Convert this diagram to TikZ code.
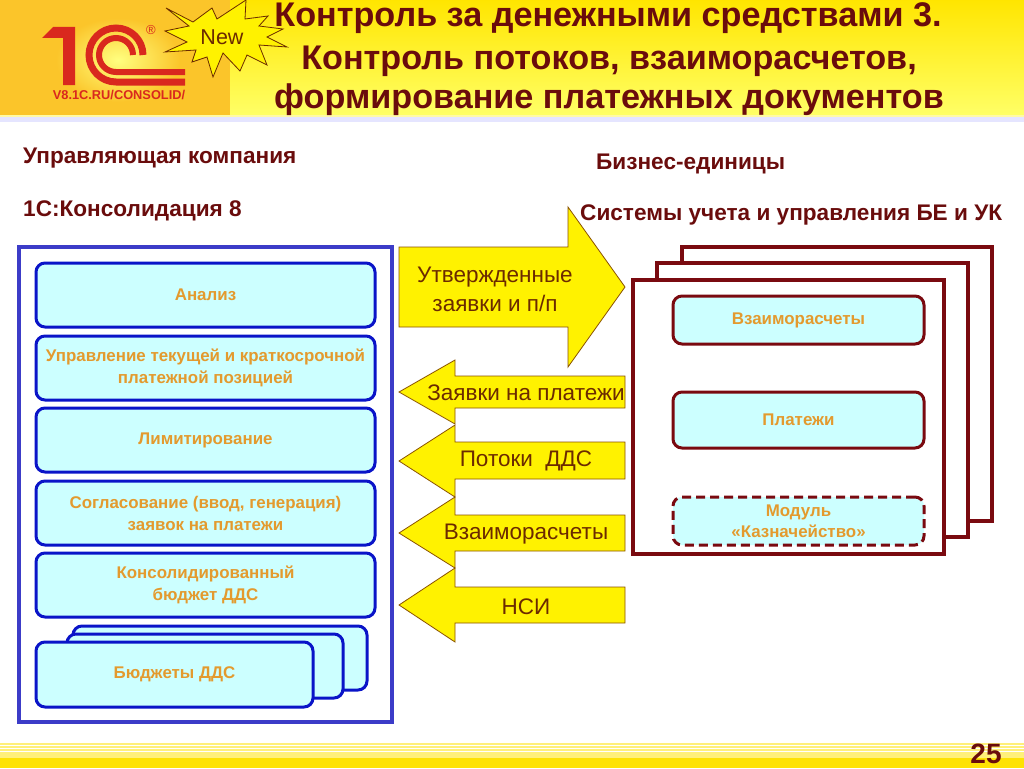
\documentclass[tikz,border=0pt]{standalone}
\usepackage{fontspec}
\setmainfont{Liberation Sans}
\usetikzlibrary{positioning}

\definecolor{maroon}{HTML}{7A0A10}
\definecolor{titlered}{HTML}{6A0C0C}
\definecolor{boxblue}{HTML}{0A14C8}
\definecolor{framblue}{HTML}{3C3CC8}
\definecolor{boxfill}{HTML}{CCFFFF}
\definecolor{boxtext}{HTML}{E39A2E}
\definecolor{arrowtext}{HTML}{6B2A00}
\definecolor{arrowline}{HTML}{8A5200}
\definecolor{logored}{HTML}{D9281E}
\definecolor{panelgold}{HTML}{FBC52A}
\definecolor{stripe}{HTML}{FFF07A}

\tikzset{
  bluebox/.style={draw=boxblue, line width=3pt, fill=boxfill, rounded corners=9pt, inner sep=0pt, text=boxtext,
    font=\bfseries\fontsize{16.9}{22}\selectfont, align=center},
  redbox/.style={draw=maroon, line width=3pt, fill=boxfill, rounded corners=9pt, inner sep=0pt, text=boxtext,
    font=\bfseries\fontsize{16.9}{21}\selectfont, align=center},
  frame/.style={draw=maroon, line width=4pt, fill=white},
  yarrow/.style={draw=arrowline, line width=0.8pt, fill=yellow},
  arrowlabel/.style={text=arrowtext, font=\fontsize{22.5}{29}\selectfont, align=center, inner sep=0pt},
  heading/.style={text=titlered, font=\bfseries\fontsize{22.6}{26}\selectfont, anchor=base west, inner sep=0pt},
  titleline/.style={text=titlered, font=\bfseries\fontsize{34.2}{40}\selectfont, anchor=base, inner sep=0pt}
}

\begin{document}
\begin{tikzpicture}[x=1pt,y=-1pt]
\useasboundingbox (0,0) rectangle (1024,768);
\fill[white] (0,0) rectangle (1024,768);

% header
\shade[top color=yellow!80!orange, bottom color=yellow!60!white] (0,0) rectangle (1024,115);
\fill[panelgold] (0,0) rectangle (230,115);
\fill[yellow!35!white] (0,115) rectangle (1024,117);
\fill[blue!10] (0,117) rectangle (1024,122);

% logo
\begin{scope}
\shade[inner color=yellow!50!white, outer color=panelgold] (118,60) ellipse (62 and 42);
\fill[logored] (42,38) -- (53,27) -- (75,27) -- (75,85) -- (63,85) -- (63,38) -- cycle;
\draw[logored, line width=7pt] (143,55) arc (0:-270:27) -- (185,82);
\draw[logored, line width=6pt] (133,55) arc (0:-270:17) -- (185,72);
\end{scope}
\node[text=logored, font=\fontsize{13}{14}\selectfont, inner sep=0pt] (regmark) at (151,30) {®};
\node[text=logored, font=\bfseries\fontsize{12.8}{14}\selectfont, inner sep=0pt] (logotext) at (119,95) {V8.1C.RU/CONSOLID/};

% star
\draw[draw=arrowtext, fill=yellow, line width=0.8pt] (166,8) -- (193,22) -- (212,8) -- (217,19) -- (246,0) -- (245,19)
  -- (268,16) -- (259,26) -- (283,29) -- (267,37) -- (287,47) -- (259,45) -- (267,65) -- (247,55) -- (240,71)
  -- (223,53) -- (213,77) -- (207,57) -- (192,62) -- (196,50) -- (165,52) -- (187,42) -- (165,31) -- (189,26) -- cycle;
\node[text=arrowtext, font=\fontsize{21.5}{24}\selectfont, inner sep=0pt] (newlabel) at (222,37) {New};

% title
\node[titleline] (titleone) at (608,27) {Контроль за денежными средствами 3.};
\node[titleline] (titletwo) at (609,69) {Контроль потоков, взаиморасчетов,};
\node[titleline] (titlethree) at (609,108) {формирование платежных документов};

% headings
\node[heading] (company) at (23,163) {Управляющая компания};
\node[heading] (consol) at (23,216) {1С:Консолидация 8};
\node[heading] (units) at (596,169) {Бизнес-единицы};
\node[heading] (systems) at (580,220) {Системы учета и управления БЕ и УК};

% left frame
\draw[draw=framblue, line width=4pt, fill=white] (19,247) rectangle (392,722);

\node[bluebox, minimum width=339pt, minimum height=64pt] (analiz) at (205.5,295) {Анализ};
\node[bluebox, minimum width=339pt, minimum height=64pt] (upravl) at (205.5,368) {Управление текущей и краткосрочной\\платежной позицией};
\node[bluebox, minimum width=339pt, minimum height=64pt] (limit) at (205.5,440) {Лимитирование};
\node[bluebox, minimum width=339pt, minimum height=64pt] (soglas) at (205.5,513) {Согласование (ввод, генерация)\\заявок на платежи};
\node[bluebox, minimum width=339pt, minimum height=64pt] (konsbud) at (205.5,585) {Консолидированный\\бюджет ДДС};

\node[bluebox, minimum width=294pt, minimum height=64pt] (budthree) at (220,658) {};
\node[bluebox, minimum width=276pt, minimum height=64pt] (budtwo) at (205,666) {};
\node[bluebox, minimum width=277pt, minimum height=65pt] (budone) at (174.5,674.5) {Бюджеты ДДС};

% arrows
\draw[yarrow] (399,247) -- (568,247) -- (568,207) -- (625,287) -- (568,367) -- (568,327) -- (399,327) -- cycle;
\foreach \ymid/\ytop/\ybot/\yhead/\yfoot in {605/587/623/568/642, 533/515/551/497/568, 461/442/479/425/497, 392/376/408/360/424}
  \draw[yarrow] (399,\ymid) -- (455,\yhead) -- (455,\ytop) -- (625,\ytop) -- (625,\ybot) -- (455,\ybot) -- (455,\yfoot) -- cycle;

\node[arrowlabel] (utv) at (495,289) {Утвержденные\\заявки и п/п};
\node[arrowlabel] (zayavki) at (526,393) {Заявки на платежи};
\node[arrowlabel] (potoki) at (526,461) {Потоки\ \ ДДС};
\node[arrowlabel] (vzaim) at (526,534) {Взаиморасчеты};
\node[arrowlabel] (nsi) at (526,607) {НСИ};

% right frames
\draw[frame] (682,247) rectangle (992,521);
\draw[frame] (657,263) rectangle (968,537);
\draw[frame] (633,280) rectangle (944,554);

\node[redbox, minimum width=251pt, minimum height=48pt] (vzaimbox) at (798.5,320) {Взаиморасчеты};
\node[redbox, minimum width=251pt, minimum height=56pt] (platezhi) at (798.5,420) {Платежи};
\node[redbox, dash pattern=on 9pt off 5pt, minimum width=251pt, minimum height=48pt] (modul) at (798.5,521) {Модуль\\«Казначейство»};

% footer
\foreach \y/\h in {743/1.5, 746/1.5, 749/2, 752/2.5, 755/3}
  \fill[stripe] (0,\y) rectangle (1024,\y+\h);
\fill[yellow!85!orange] (0,758) rectangle (1024,768);
\node[text=titlered, font=\bfseries\fontsize{28}{30}\selectfont, inner sep=0pt] (pagenum) at (986,754) {25};
\end{tikzpicture}
\end{document}
